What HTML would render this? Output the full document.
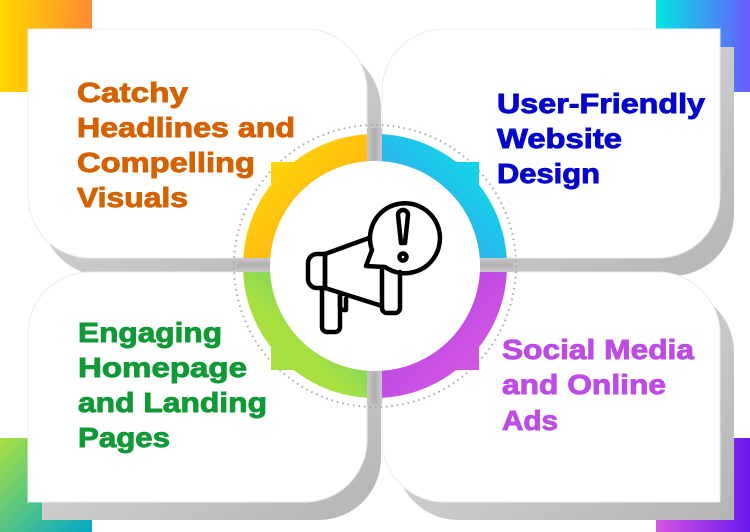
<!DOCTYPE html>
<html><head><meta charset="utf-8"><style>
html,body{margin:0;padding:0;background:#fff;}
svg{display:block;}
text{font-family:"Liberation Sans",sans-serif;font-weight:bold;font-size:28px;stroke-width:0.9px;}
</style></head><body>
<svg width="750" height="532" viewBox="0 0 750 532" xmlns="http://www.w3.org/2000/svg">
<defs>
<linearGradient id="sh" x1="0" y1="0" x2="1" y2="1"><stop offset="0" stop-color="#e2e2e2"/><stop offset="1" stop-color="#b4b4b4"/></linearGradient>
<linearGradient id="gTL" x1="0" y1="0" x2="1" y2="0"><stop offset="0" stop-color="#ffd800"/><stop offset="1" stop-color="#ff8a30"/></linearGradient>
<linearGradient id="gTR" x1="0" y1="0" x2="1" y2="0"><stop offset="0" stop-color="#00e6e0"/><stop offset="1" stop-color="#6a5cff"/></linearGradient>
<linearGradient id="gBL" x1="0" y1="0" x2="1" y2="1"><stop offset="0" stop-color="#a8e040"/><stop offset="1" stop-color="#00a8c8"/></linearGradient>
<linearGradient id="gBR" x1="0" y1="0" x2="1" y2="0"><stop offset="0" stop-color="#d456e0"/><stop offset="1" stop-color="#6a18f0"/></linearGradient>
<linearGradient id="rTL" x1="0" y1="0" x2="1" y2="1"><stop offset="0" stop-color="#ffe600"/><stop offset="1" stop-color="#ff9a20"/></linearGradient>
<linearGradient id="rTR" x1="1" y1="0" x2="0" y2="1"><stop offset="0" stop-color="#00ece0"/><stop offset="1" stop-color="#4a8cf8"/></linearGradient>
<linearGradient id="rBR" x1="0" y1="0" x2="1" y2="1"><stop offset="0" stop-color="#a83ce8"/><stop offset="1" stop-color="#de5ee0"/></linearGradient>
<linearGradient id="rBL" x1="1" y1="0" x2="0" y2="1"><stop offset="0" stop-color="#40c890"/><stop offset="0.6" stop-color="#a8e040"/><stop offset="1" stop-color="#a8e040"/></linearGradient>
<linearGradient id="bar" x1="0" y1="0" x2="1" y2="0"><stop offset="0" stop-color="#c8c8c8"/><stop offset="0.5" stop-color="#b0b0b0"/><stop offset="1" stop-color="#c8c8c8"/></linearGradient>
<linearGradient id="barh" x1="0" y1="0" x2="0" y2="1"><stop offset="0" stop-color="#c8c8c8"/><stop offset="0.5" stop-color="#b0b0b0"/><stop offset="1" stop-color="#c8c8c8"/></linearGradient>
</defs>

<rect x="0" y="0" width="92" height="92" fill="url(#gTL)"/>
<rect x="656" y="0" width="94" height="92" fill="url(#gTR)"/>
<rect x="0" y="438" width="92" height="94" fill="url(#gBL)"/>
<rect x="656" y="438" width="94" height="94" fill="url(#gBR)"/>

<g fill="url(#sh)">
<path transform="translate(14,18)" d="M28,29 H305 A62,62 0 0 1 367,91 V258 H90 A62,62 0 0 1 28,196 Z"/>
<path transform="translate(14,18)" d="M382,91 A62,62 0 0 1 444,29 H720 V196 A62,62 0 0 1 658,258 H382 Z"/>
<path transform="translate(14,18)" d="M28,334 A62,62 0 0 1 90,272 H367 V440 A62,62 0 0 1 305,502 H28 Z"/>
<path transform="translate(14,18)" d="M382,272 H658 A62,62 0 0 1 720,334 V502 H444 A62,62 0 0 1 382,440 Z"/>
</g>

<g fill="#fff" stroke="#ececec" stroke-width="1">
<path d="M28,29 H305 A62,62 0 0 1 367,91 V258 H90 A62,62 0 0 1 28,196 Z"/>
<path d="M382,91 A62,62 0 0 1 444,29 H720 V196 A62,62 0 0 1 658,258 H382 Z"/>
<path d="M28,334 A62,62 0 0 1 90,272 H367 V440 A62,62 0 0 1 305,502 H28 Z"/>
<path d="M382,272 H658 A62,62 0 0 1 720,334 V502 H444 A62,62 0 0 1 382,440 Z"/>
</g>

<circle cx="375" cy="266" r="141" fill="none" stroke="#a8a8a8" stroke-width="2" stroke-dasharray="1.5 4"/>

<path d="M375,266 H243 A132,132 0 0 1 375,134 Z M271,162 H375 V266 H271 Z" fill="url(#rTL)"/>
<path d="M375,266 V134 A132,132 0 0 1 507,266 Z M375,162 H479 V266 H375 Z" fill="url(#rTR)"/>
<path d="M375,266 H507 A132,132 0 0 1 375,398 Z M375,266 H479 V370 H375 Z" fill="url(#rBR)"/>
<path d="M375,266 V398 A132,132 0 0 1 243,266 Z M271,266 H375 V370 H271 Z" fill="url(#rBL)"/>

<rect x="367" y="128" width="15" height="276" fill="url(#bar)"/>
<rect x="237" y="258" width="276" height="14" fill="url(#barh)"/>

<circle cx="375" cy="266" r="105" fill="#fff"/>

<g fill="none" stroke="#000" stroke-width="4.5" stroke-linejoin="round" stroke-linecap="round">
<path d="M325,254 H317 A9,9 0 0 0 308,263 V279 A9,9 0 0 0 317,288 H325 Z"/>
<path d="M325,254 L369,238"/>
<path d="M325,288 L382,306"/>
<path d="M325,254 V288"/>
<path d="M372,250 A35,35 0 1 1 385,267 L366,266 Z"/>
<path d="M322,290 V327 A5,5 0 0 0 327,332 H335 A5,5 0 0 0 340,327 V296"/>
<path d="M340,294 V306 A4,4 0 0 0 344,310 H346 V299"/>
<path d="M382,268 V308 A5,5 0 0 0 387,313 H395 A5,5 0 0 0 400,308 V272"/>
<path d="M398,215 A5,5 0 0 1 408,215 L405,243 L401,243 Z"/>
<circle cx="403" cy="257" r="3.5"/>
</g>

<g fill="#d46200" stroke="#d46200">
<text x="77" y="102" textLength="111" lengthAdjust="spacingAndGlyphs">Catchy</text>
<text x="77" y="137" textLength="218" lengthAdjust="spacingAndGlyphs">Headlines and</text>
<text x="77" y="172" textLength="178" lengthAdjust="spacingAndGlyphs">Compelling</text>
<text x="77" y="207" textLength="111" lengthAdjust="spacingAndGlyphs">Visuals</text>
</g>
<g fill="#0505cc" stroke="#0505cc">
<text x="497" y="113" textLength="208" lengthAdjust="spacingAndGlyphs">User-Friendly</text>
<text x="497" y="148" textLength="125" lengthAdjust="spacingAndGlyphs">Website</text>
<text x="497" y="183" textLength="103" lengthAdjust="spacingAndGlyphs">Design</text>
</g>
<g fill="#0f9a36" stroke="#0f9a36">
<text x="78" y="342" textLength="144" lengthAdjust="spacingAndGlyphs">Engaging</text>
<text x="78" y="377" textLength="169" lengthAdjust="spacingAndGlyphs">Homepage</text>
<text x="78" y="412" textLength="189" lengthAdjust="spacingAndGlyphs">and Landing</text>
<text x="78" y="447" textLength="92" lengthAdjust="spacingAndGlyphs">Pages</text>
</g>
<g fill="#bd4be6" stroke="#bd4be6">
<text x="502" y="359" textLength="192" lengthAdjust="spacingAndGlyphs">Social Media</text>
<text x="502" y="394" textLength="164" lengthAdjust="spacingAndGlyphs">and Online</text>
<text x="502" y="430" textLength="56" lengthAdjust="spacingAndGlyphs">Ads</text>
</g>
</svg>
</body></html>
